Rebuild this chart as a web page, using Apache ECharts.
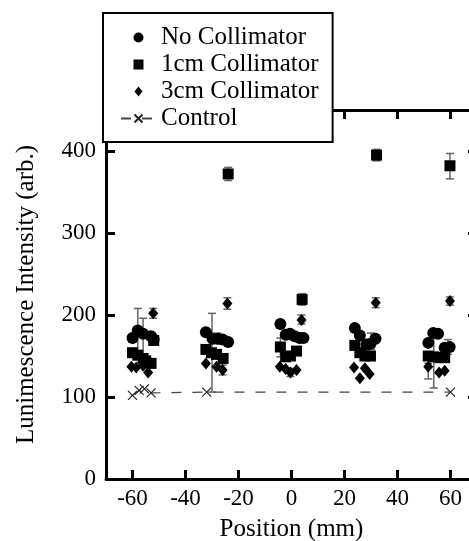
<!DOCTYPE html>
<html>
<head>
<meta charset="utf-8">
<script src="https://cdn.jsdelivr.net/npm/echarts@6/dist/echarts.min.js"></script>
<style>
html,body{margin:0;padding:0;background:#fff;}
#chart{width:469px;height:541px;}
</style>
</head>
<body>
<div id="chart"></div>
<script>
// ---- data ----
var xTicks = [-60, -40, -20, 0, 20, 40, 60];
var yTicks = [0, 100, 200, 300, 400];

var noCollimator = [
  [-60,172],[-58,181],[-56,177],[-53,174],[-52,170],
  [-32.3,179],[-29.8,171],[-27.7,171],[-26,170],[-23.9,167],
  [-4.2,189],[-2.2,176],[-0.6,177],[1.2,174],[3.1,172],[4.5,172],
  [23.9,184],[25.8,175],[28.3,164],[29.8,165],[31.7,171],
  [51.6,166],[53.5,178],[55.3,177],[57.8,160],[59.7,161]
];
var collimator1cm = [
  [-60,154],[-58,151],[-56,147],[-55,144],[-53,141],[-52,169],
  [-32.3,158],[-30.2,154],[-28.3,152],[-25.8,147],[-23.9,372],
  [-4.2,161],[-2.2,149],[-0.4,150],[1.9,156],[4,219],
  [23.9,163],[25.8,154],[27.7,150],[29.8,150],[32.1,395],
  [51.6,150],[53.7,149],[56,148],[57.8,148],[59.8,382]
];
var collimator3cm = [
  [-60.4,137],[-58.6,136],[-56,138],[-54.1,130],[-52.2,202],
  [-32.3,141],[-28.3,137],[-26,133],[-24.2,214],
  [-4.4,137],[-2.2,134],[-0.4,130],[1.9,133],[3.8,194],
  [23.6,136],[25.8,123],[27.7,135],[29.5,128],[31.8,215],
  [51.6,137],[55.7,130],[57.8,132],[59.8,217]
];
var control = [
  [-60,102],[-57.5,108],[-55.5,110],[-53,105],[-32,106],[60,106]
];
// [x, low, high]
var errorBars = [
  [-58,152,208],[-56,150,196],[-52.2,196,208],
  [-23.9,364,380],[-24.2,207,221],[-30,106,202],[-28,165,178],[-26,127,139],
  [4,212,226],[3.8,189,200],[-4.2,149,172],[-0.4,125,135],
  [32.1,388,402],[31.8,209,221],[30,158,178],
  [59.8,366,397],[59.8,212,222],[53.7,111,182],[51.6,122,141],[59,152,170]
];

var FONT = "'Liberation Serif', 'Times New Roman', serif";
var chart = echarts.init(document.getElementById('chart'), null, {renderer: 'canvas'});

function tickStyle() {
  return {show: true, inside: true, length: 9, lineStyle: {color: '#000', width: 3}};
}
var axisLineStyle = {show: true, onZero: false, lineStyle: {color: '#000', width: 3}};

var option = {
  animation: false,
  backgroundColor: '#fff',
  textStyle: {fontFamily: FONT},
  grid: {left: 106, width: 371, top: 110, bottom: 62, containLabel: false, outerBoundsMode: 'none'},
  legend: {
    orient: 'vertical',
    left: 103, top: 13,
    padding: [12, 14, 11, 17],
    backgroundColor: '#fff',
    borderColor: '#000',
    borderWidth: 2,
    itemWidth: 35, itemHeight: 10, itemGap: 2,
    textStyle: {fontFamily: FONT, fontSize: 25, color: '#000', lineHeight: 24},
    z: 10,
    data: [
      {name: 'No Collimator', icon: 'circle'},
      {name: '1cm Collimator', icon: 'path://M0,0H10V10H0Z'},
      {name: '3cm Collimator', icon: 'path://M4,0L8,5L4,10L0,5Z'},
      {name: 'Control'}
    ]
  },
  xAxis: [
    {
      type: 'value', min: -70, max: 70, position: 'bottom',
      axisLine: axisLineStyle, splitLine: {show: false},
      name: 'Position (mm)', nameLocation: 'middle', nameGap: 38,
      nameTextStyle: {fontFamily: FONT, fontSize: 25, color: '#000'},
      axisTick: Object.assign(tickStyle(), {customValues: xTicks}),
      axisLabel: {customValues: xTicks, margin: 8, fontFamily: FONT, fontSize: 23, color: '#000'}
    },
    {
      type: 'value', min: -70, max: 70, position: 'top',
      axisLine: axisLineStyle, splitLine: {show: false},
      axisTick: Object.assign(tickStyle(), {customValues: xTicks}),
      axisLabel: {show: false}
    }
  ],
  yAxis: [
    {
      type: 'value', min: 0, max: 450, position: 'left',
      axisLine: axisLineStyle, splitLine: {show: false},
      name: 'Lunimescence Intensity (arb.)', nameLocation: 'middle', nameGap: 67,
      nameTextStyle: {fontFamily: FONT, fontSize: 25, color: '#000'},
      axisTick: Object.assign(tickStyle(), {customValues: yTicks}),
      axisLabel: {customValues: yTicks, margin: 10, fontFamily: FONT, fontSize: 23, color: '#000'}
    },
    {
      type: 'value', min: 0, max: 450, position: 'right',
      axisLine: axisLineStyle, splitLine: {show: false},
      axisTick: Object.assign(tickStyle(), {customValues: yTicks}),
      axisLabel: {show: false}
    }
  ],
  series: [
    {
      name: 'errors', type: 'custom', z: 1,
      data: errorBars,
      renderItem: function (params, api) {
        var x = api.value(0);
        var lo = api.coord([x, api.value(1)]);
        var hi = api.coord([x, api.value(2)]);
        var w = 4;
        var st = {stroke: '#666', lineWidth: 1.5};
        return {
          type: 'group',
          children: [
            {type: 'line', shape: {x1: lo[0], y1: lo[1], x2: hi[0], y2: hi[1]}, style: st},
            {type: 'line', shape: {x1: lo[0]-w, y1: lo[1], x2: lo[0]+w, y2: lo[1]}, style: st},
            {type: 'line', shape: {x1: hi[0]-w, y1: hi[1], x2: hi[0]+w, y2: hi[1]}, style: st}
          ]
        };
      }
    },
    {
      name: 'Control', type: 'line', z: 2,
      data: control,
      symbol: 'path://M0,0L10,10M10,0L0,10',
      symbolSize: 9,
      showAllSymbol: true,
      lineStyle: {color: '#444', width: 1.2, type: [10, 11]},
      itemStyle: {color: '#222', borderColor: '#222', borderWidth: 1.2, opacity: 1}
    },
    {
      name: 'No Collimator', type: 'scatter', z: 3,
      data: noCollimator, symbol: 'circle', symbolSize: 12,
      itemStyle: {color: '#000', opacity: 1}
    },
    {
      name: '1cm Collimator', type: 'scatter', z: 3,
      data: collimator1cm, symbol: 'rect', symbolSize: 11,
      itemStyle: {color: '#000', opacity: 1}
    },
    {
      name: '3cm Collimator', type: 'scatter', z: 3,
      data: collimator3cm, symbol: 'diamond', symbolSize: [10, 12],
      itemStyle: {color: '#000', opacity: 1}
    }
  ]
};
chart.setOption(option);
</script>
</body>
</html>
